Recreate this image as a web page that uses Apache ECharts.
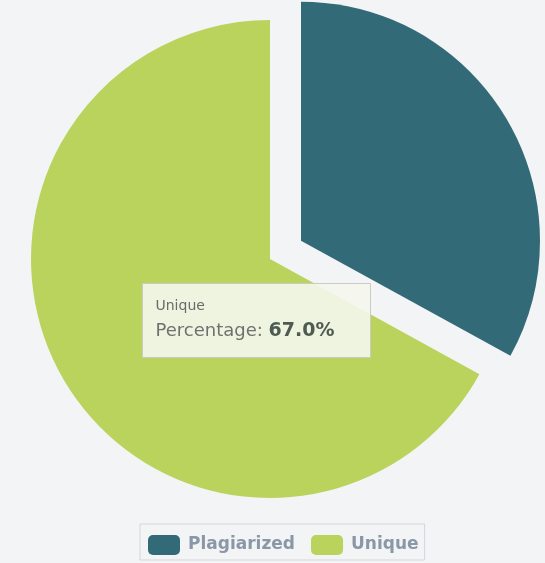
<!DOCTYPE html>
<html><head><meta charset="utf-8">
<script src="https://cdn.jsdelivr.net/npm/echarts@6/dist/echarts.min.js"></script>
<style>html,body{margin:0;padding:0;background:#f3f4f6}#c{width:545px;height:563px}</style>
</head><body><div id="c"></div>
<script>
var categories = ["Plagiarized", "Unique"];
var percentages = [33.0, 67.0];
var colors = ["#336a77", "#bad35c"];
var tipName = "Unique";
var tipValue = "67.0%";

var chart = echarts.init(document.getElementById('c'));
chart.setOption({
  backgroundColor: '#f3f4f6',
  animation: false,
  legend: {
    bottom: 3, left: 140,
    data: categories,
    icon: 'roundRect', itemWidth: 32, itemHeight: 20, itemGap: 16,
    borderColor: '#d4d6d8', borderWidth: 1, padding: [11, 6, 5, 8],
    textStyle: { color: '#8a97a6', fontSize: 17, fontWeight: 'bold', fontFamily: 'DejaVu Sans', padding: [0, 0, 0, 3] }
  },
  series: [{
    type: 'pie',
    center: [270, 259],
    radius: 239,
    startAngle: 90,
    clockwise: true,
    selectedMode: 'single',
    selectedOffset: 36,
    label: { show: false },
    labelLine: { show: false },
    data: categories.map(function (c, i) {
      return { name: c, value: percentages[i], selected: i === 0, itemStyle: { color: colors[i] } };
    })
  }],
  graphic: [{
    type: 'group', left: 142, top: 283, z: 100,
    children: [
      { type: 'rect', z: 100, shape: { x: 0, y: 0, width: 228, height: 74 },
        style: { fill: 'rgba(245,247,238,0.9)', stroke: '#c9cbc4', lineWidth: 1 } },
      { type: 'text', z: 101, left: 13, top: 16,
        style: { text: tipName, fill: '#6a6a6a', fontSize: 14, fontFamily: 'DejaVu Sans' } },
      { type: 'text', z: 101, left: 13, top: 38,
        style: { text: '{a|Percentage: }{b|' + tipValue + '}',
          rich: { a: { fill: '#707070', fontSize: 18, fontFamily: 'DejaVu Sans' },
                  b: { fill: '#4f5a52', fontSize: 19, fontWeight: 'bold', fontFamily: 'DejaVu Sans' } } } }
    ]
  }]
});
</script></body></html>
